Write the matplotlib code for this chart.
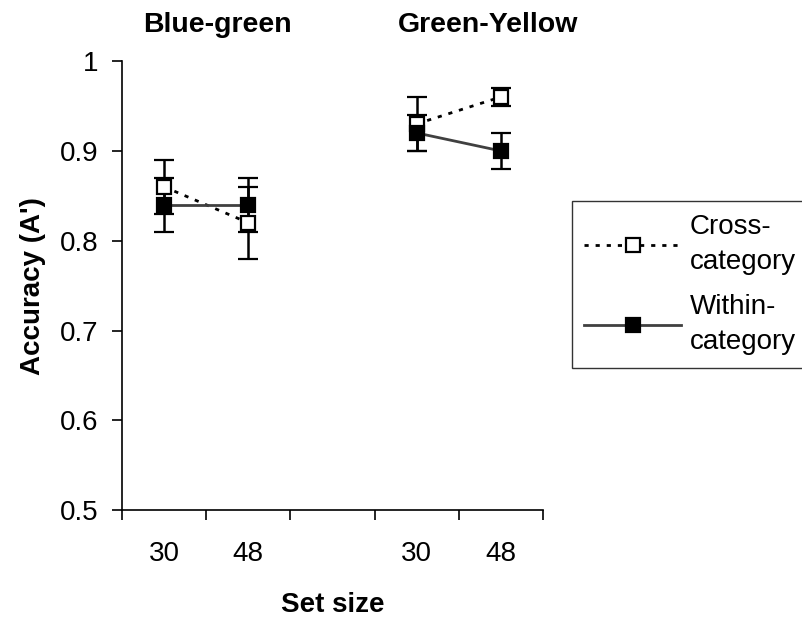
import matplotlib
matplotlib.use("Agg")
import matplotlib.pyplot as plt
from matplotlib.lines import Line2D
import numpy as np

plt.rcParams['font.family'] = ['Liberation Sans', 'DejaVu Sans']

# x categories (gap between the two colour pairs)
tick_labels = ['30', '48', '', '30', '48']
bg_pos = [0, 1]
gy_pos = [3, 4]

# Accuracy (A') and error bar half-widths
cross_bg = [0.86, 0.82]
cross_bg_err = [0.03, 0.04]
within_bg = [0.84, 0.84]
within_bg_err = [0.03, 0.03]

cross_gy = [0.93, 0.96]
cross_gy_err = [0.03, 0.01]
within_gy = [0.92, 0.90]
within_gy_err = [0.02, 0.02]

fig = plt.figure(figsize=(8.03, 6.23), dpi=100)
ax = fig.add_axes([0.152, 0.181, 0.524, 0.721])

cross_line = dict(color='black', linestyle=(0, (1.5, 2.5)), linewidth=2,
                  marker='s', markersize=10, markerfacecolor='white',
                  markeredgecolor='black', markeredgewidth=1.6)
within_line = dict(color='#404040', linestyle='-', linewidth=2,
                   marker='s', markersize=10, markerfacecolor='black',
                   markeredgecolor='black', markeredgewidth=1.6)
err_style = dict(ecolor='black', elinewidth=1.8, capsize=7, capthick=1.8)

ax.errorbar(bg_pos, cross_bg, yerr=cross_bg_err, **cross_line, **err_style)
ax.errorbar(gy_pos, cross_gy, yerr=cross_gy_err, **cross_line, **err_style)
ax.errorbar(bg_pos, within_bg, yerr=within_bg_err, **within_line, **err_style)
ax.errorbar(gy_pos, within_gy, yerr=within_gy_err, **within_line, **err_style)

ax.set_xlim(-0.5, 4.5)
ax.set_ylim(0.5, 1.0)
ax.set_yticks(np.arange(0.5, 1.01, 0.1))
ax.set_yticklabels(['0.5', '0.6', '0.7', '0.8', '0.9', '1'])
ax.set_xticks(np.arange(-0.5, 4.6, 1))
ax.set_xticklabels([])
ax.set_xticks(range(len(tick_labels)), minor=True)
ax.set_xticklabels(tick_labels, minor=True)
ax.tick_params(axis='x', which='minor', length=0, pad=22, labelsize=20)
ax.tick_params(axis='x', which='major', length=7, width=1.2, direction='out')
ax.tick_params(axis='y', length=7, width=1.2, direction='out', labelsize=20, pad=10)

for s in ['top', 'right']:
    ax.spines[s].set_visible(False)
for s in ['left', 'bottom']:
    ax.spines[s].set_linewidth(1.2)

ax.set_xlabel('Set size', fontsize=20, fontweight='bold', labelpad=18)
ax.set_ylabel("Accuracy (A')", fontsize=20, fontweight='bold', labelpad=10)

fig.text(0.271, 0.96, 'Blue-green', fontsize=20.5, fontweight='bold', ha='center', va='center')
fig.text(0.608, 0.96, 'Green-Yellow', fontsize=20.5, fontweight='bold', ha='center', va='center')

h1 = Line2D([], [], label='Cross-\ncategory', **cross_line)
h2 = Line2D([], [], label='Within-\ncategory', **within_line)
leg = fig.legend(handles=[h1, h2], loc='upper left', bbox_to_anchor=(0.712, 0.677),
                 fontsize=20, frameon=True, fancybox=False, edgecolor='black',
                 handlelength=3.5, handletextpad=0.3, borderpad=0.45,
                 labelspacing=0.7, numpoints=1, borderaxespad=0)
leg.get_frame().set_linewidth(1.0)
for t in leg.get_texts():
    t.set_linespacing(1.45)

fig.savefig('out.png', dpi=100)
